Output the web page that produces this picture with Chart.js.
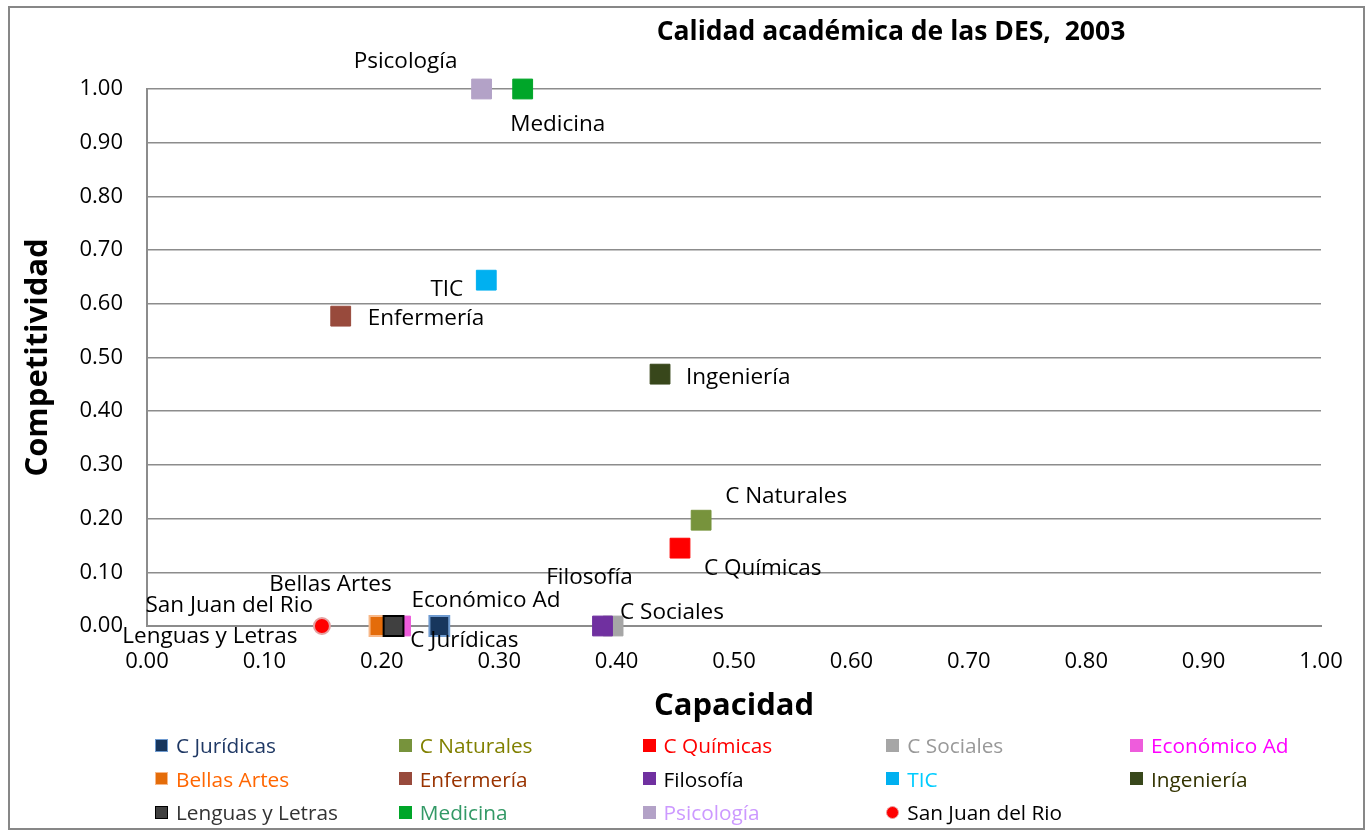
<!DOCTYPE html>
<html>
<head>
<meta charset="utf-8">
<script src="https://cdn.jsdelivr.net/npm/chart.js@4/dist/chart.umd.min.js"></script>
<style>
  html, body { margin: 0; padding: 0; background: #fff; }
  #wrap { position: relative; width: 1370px; height: 830px; font-family: "Open Sans", sans-serif; }
  #frame { position: absolute; left: 8px; top: 6px; width: 1353px; height: 820px; border: 2px solid #878787; pointer-events: none; }
  #title { position: absolute; left: 0; top: 12px; width: 1782px; text-align: center; font-weight: bold; font-size: 26.5px; color: #000; white-space: pre; }
  #legend { position: absolute; left: 155px; top: 731px; }
  .item { position: absolute; display: flex; align-items: center; font-size: 20.8px; white-space: nowrap; height: 28px; }
  .box { width: 11px; height: 11px; margin-right: 8px; border: 1px solid transparent; }
  .dot { width: 11px; height: 11px; margin-right: 8px; border-radius: 50%; border: 1px solid #e8a0a0; }
</style>
</head>
<body>
<div id="wrap">
  <canvas id="chart" width="1370" height="830"></canvas>
  <div id="title">Calidad académica de las DES,  2003</div>
  <div id="legend"></div>
  <div id="frame"></div>
</div>
<script>
// series (Excel order)
const seriesNames = ['C Jurídicas', 'C Naturales', 'C Químicas', 'C Sociales', 'Económico Ad',
  'Bellas Artes', 'Enfermería', 'Filosofía', 'TIC', 'Ingeniería',
  'Lenguas y Letras', 'Medicina', 'Psicología', 'San Juan del Rio'];
// Capacidad (x)
const capacidad = [0.249, 0.472, 0.454, 0.397, 0.216, 0.198, 0.165, 0.388, 0.289, 0.437, 0.210, 0.320, 0.285, 0.149];
// Competitividad (y)
const competitividad = [0.00, 0.197, 0.145, 0.00, 0.00, 0.00, 0.577, 0.00, 0.644, 0.469, 0.00, 1.00, 1.00, 0.00];
const yTicks = [0, 0.1, 0.2, 0.3, 0.4, 0.5, 0.6, 0.7, 0.8, 0.9, 1.0];

const fillColors = ['#17365D', '#77933C', '#FF0000', '#A6A6A6', '#EE5CDC', '#E46C0A', '#984A3C',
  '#7030A0', '#00B0F0', '#38471B', '#404040', '#00A629', '#B3A2C7', '#FF0000'];
const edgeColors = ['#6F9BD0', '#77933C', '#FF0000', '#A6A6A6', '#EE5CDC', '#F8B888', '#984A3C',
  '#7030A0', '#00B0F0', '#38471B', '#000000', '#00A629', '#B3A2C7', '#E6A0A0'];
const legendTextColors = ['#1F3864', '#808000', '#FF0000', '#999999', '#FF00FF', '#FF6600', '#993300',
  '#000000', '#00CCFF', '#333300', '#333333', '#339966', '#CC99FF', '#000000'];

// label placement relative to the marker: [dx, dy, align]
const labelPos = [[-29, 15, 'left'], [24, -24, 'left'], [24, 20, 'left'], [7, -13, 'left'], [11, -25, 'left'],
  [-49, -41, 'center'], [27, 2, 'left'], [-13, -48, 'center'], [-23, 9, 'right'], [26, 3, 'left'],
  [-96, 11, 'right'], [35, 36, 'center'], [-76, -27, 'center'], [-9, -20, 'right']];

const datasets = seriesNames.map((name, i) => ({
  label: name,
  data: [{ x: capacidad[i], y: competitividad[i] }],
  pointStyle: name === 'San Juan del Rio' ? 'circle' : 'rect',
  pointRadius: name === 'San Juan del Rio' ? 8 : 14,
  pointHoverRadius: name === 'San Juan del Rio' ? 8 : 14,
  backgroundColor: fillColors[i],
  borderColor: edgeColors[i],
  borderWidth: (i === 0 || i === 5 || i === 10 || i === 13) ? 2 : 1,
  order: -i,
  clip: false
}));

const pointLabels = {
  id: 'pointLabels',
  afterDatasetsDraw(chart) {
    const ctx = chart.ctx;
    ctx.save();
    ctx.font = '22.5px "Open Sans"';
    ctx.fillStyle = '#000';
    ctx.textBaseline = 'middle';
    chart.data.datasets.forEach((ds, i) => {
      const pt = chart.getDatasetMeta(i).data[0];
      const p = labelPos[i];
      ctx.textAlign = p[2];
      ctx.fillText(ds.label, pt.x + p[0], pt.y + p[1]);
    });
    ctx.restore();
  }
};

new Chart(document.getElementById('chart'), {
  type: 'scatter',
  data: { datasets },
  options: {
    responsive: false,
    animation: false,
    layout: { padding: { left: 20, top: 89, right: 49, bottom: 105 } },
    plugins: { legend: { display: false }, tooltip: { enabled: false } },
    scales: {
      x: {
        min: 0, max: 1,
        afterFit: s => { s.height = 99; },
        ticks: { stepSize: 0.1, padding: 23, color: '#000', font: { family: 'Open Sans', size: 22 },
          callback: v => Number(v).toFixed(2) },
        grid: { display: false, drawTicks: false },
        border: { color: '#8c8c8c', width: 2 },
        title: { display: true, text: 'Capacidad', color: '#000', padding: 0,
          font: { family: 'Open Sans', size: 31, weight: 'bold' } }
      },
      y: {
        min: 0, max: 1,
        afterFit: s => { s.width = 127; },
        afterBuildTicks: s => { s.ticks = yTicks.map(v => ({ value: v })); },
        ticks: { padding: 24, color: '#000', font: { family: 'Open Sans', size: 22 },
          callback: v => Number(v).toFixed(2) },
        grid: { color: '#8c8c8c', lineWidth: 1.5, drawTicks: false },
        border: { color: '#8c8c8c', width: 2 },
        title: { display: true, text: 'Competitividad', color: '#000', padding: 0,
          font: { family: 'Open Sans', size: 31, weight: 'bold' } }
      }
    }
  },
  plugins: [pointLabels]
});

// legend: 5 columns like the original
const legendEl = document.getElementById('legend');
seriesNames.forEach((name, i) => {
  const col = i % 5, row = Math.floor(i / 5);
  const item = document.createElement('div');
  item.className = 'item';
  item.style.left = (col * 243.75) + 'px';
  item.style.top = (row * 33.5) + 'px';
  const mark = document.createElement('span');
  mark.className = name === 'San Juan del Rio' ? 'dot' : 'box';
  mark.style.background = fillColors[i];
  if (name !== 'San Juan del Rio') mark.style.borderColor = edgeColors[i];
  const txt = document.createElement('span');
  txt.textContent = name;
  txt.style.color = legendTextColors[i];
  item.appendChild(mark);
  item.appendChild(txt);
  legendEl.appendChild(item);
});
</script>
</body>
</html>
